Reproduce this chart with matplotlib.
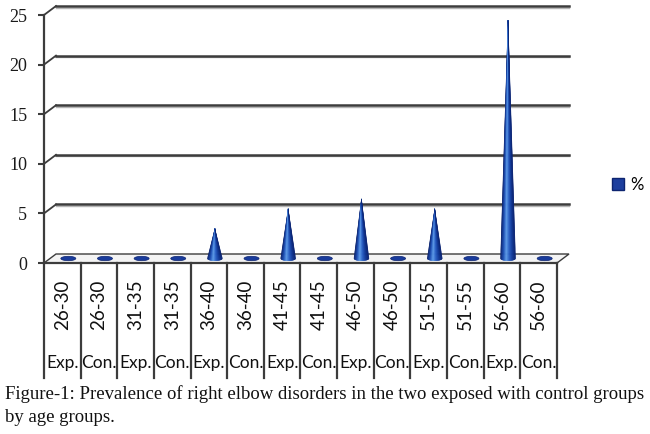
import numpy as np
import matplotlib
matplotlib.use("Agg")
import matplotlib.pyplot as plt
from matplotlib.patches import Polygon, Ellipse, Patch
from matplotlib.colors import LinearSegmentedColormap

age_groups = ["26-30", "26-30", "31-35", "31-35", "36-40", "36-40", "41-45",
              "41-45", "46-50", "46-50", "51-55", "51-55", "56-60", "56-60"]
groups = ["Exp.", "Con."] * 7
prevalence = [0, 0, 0, 0, 3, 0, 5, 0, 6, 0, 5, 0, 24, 0]
y_ticks = [0, 5, 10, 15, 20, 25]
series_name = "%"
caption = ["Figure-1: Prevalence of right elbow disorders in the two exposed with control groups",
           "by age groups."]

W, H = 650, 434
grid_col = "#3c3c3c"
cone_cmap = LinearSegmentedColormap.from_list(
    "cone", ["#0b1f66", "#1d4fb5", "#5d9be8", "#2a5fc4", "#123a9a", "#0a2270"])

fig = plt.figure(figsize=(W / 100, H / 100), dpi=100)
fig.patch.set_facecolor("white")
ax_l, ax_b, ax_w, ax_h = 44, 171, 513, 248
ax = fig.add_axes([ax_l / W, ax_b / H, ax_w / W, ax_h / H])
n = len(prevalence)
ax.set_xlim(-0.5, n - 0.5)
ax.set_ylim(y_ticks[0], y_ticks[-1])
ax.patch.set_alpha(0)
for s in ["top", "right"]:
    ax.spines[s].set_visible(False)
for s in ["left", "bottom"]:
    ax.spines[s].set_color(grid_col)
    ax.spines[s].set_linewidth(1.6)
ax.set_xticks([])
ax.set_yticks(y_ticks)
ax.tick_params(axis="y", length=4, width=1.5, color=grid_col, pad=8,
               labelsize=13, labelcolor="#1a1a1a", labelfontfamily="Liberation Serif")

# pixel -> data unit helpers for the fake 3d depth
ux = ax_w / n
uy = ax_h / (y_ticks[-1] - y_ticks[0])
dx, dy = 12 / ux, 9 / uy      # back wall offset
mx, my = 6 / ux, 4.5 / uy     # mid depth (cones)

# floor
ax.add_patch(Polygon([(-0.5, 0), (n - 0.5, 0), (n - 0.5 + dx, dy), (-0.5 + dx, dy)],
                     closed=True, facecolor="#f4f4f4", edgecolor=grid_col, lw=1.0,
                     clip_on=False, zorder=1))

# back wall gridlines
for v in y_ticks[1:]:
    ax.plot([-0.5 + dx, n - 0.5 + dx], [v + dy - 1.6 / uy] * 2, color="#b5b5b5",
            lw=1.0, clip_on=False, zorder=1)
    ax.plot([-0.5 + dx, n - 0.5 + dx], [v + dy] * 2, color=grid_col, lw=1.8,
            clip_on=False, zorder=1)
    ax.plot([-0.5, -0.5 + dx], [v, v + dy], color=grid_col, lw=1.3,
            clip_on=False, zorder=1)

# cones
hw = 7.5 / ux
eh = 2.2 / uy
nseg = 30
for i, v in enumerate(prevalence):
    cx = i + mx
    if v > 0:
        t = np.linspace(-1, 1, nseg + 1)
        xs = cx + hw * t
        ys = my - eh * np.sqrt(1 - t ** 2)
        for k in range(nseg):
            c = cone_cmap((k + 0.5) / nseg)
            ax.add_patch(Polygon([(cx, v + my), (xs[k], ys[k]), (xs[k + 1], ys[k + 1])],
                                 closed=True, facecolor=c, edgecolor=c, lw=0.3,
                                 clip_on=False, zorder=3))
    else:
        ax.add_patch(Ellipse((cx, my), 2 * hw, 2 * eh, facecolor="#1a3c9c",
                             edgecolor="#0d2470", lw=0.5, clip_on=False, zorder=3))

# data table under the axis
xt = ax.get_xaxis_transform()
bottom = -(378 - 263) / ax_h
for k in range(n + 1):
    ax.plot([k - 0.5, k - 0.5], [0, bottom], color=grid_col, lw=1.6,
            transform=xt, clip_on=False)
for i in range(n):
    ax.text(i, -(305 - 263) / ax_h, age_groups[i], rotation=90, ha="center",
            va="center", transform=xt, fontfamily="Lato", fontsize=13.5, color="#111111")
    ax.text(i, -(363 - 263) / ax_h, groups[i], ha="center", va="center",
            transform=xt, fontfamily="Lato", fontsize=12.5, color="#111111")

# legend
fig.legend(handles=[Patch(facecolor="#1d3f9e", edgecolor="#0d2470")], labels=[series_name],
           loc="center left", bbox_to_anchor=(612 / W, 1 - 185 / H), frameon=False,
           handlelength=0.7, handleheight=0.7, handletextpad=0.4, borderpad=0,
           borderaxespad=0, prop={"family": "Lato", "size": 12})

# caption
fig.text(5 / W, 1 - 394 / H, caption[0], ha="left", va="center",
         fontfamily="Liberation Serif", fontsize=13.5, color="#111111")
fig.text(5 / W, 1 - 418 / H, caption[1], ha="left", va="center",
         fontfamily="Liberation Serif", fontsize=13.5, color="#111111")

fig.savefig("out.png", dpi=100)
